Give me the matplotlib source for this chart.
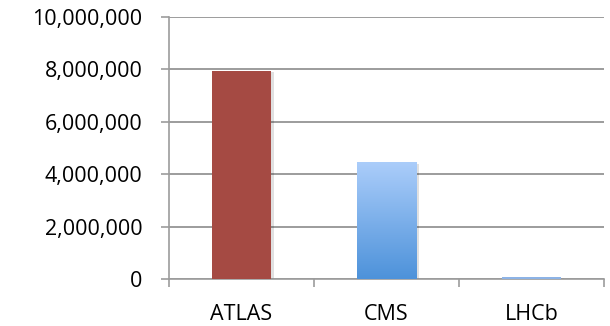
import numpy as np
import matplotlib
matplotlib.use("Agg")
import matplotlib.pyplot as plt
from matplotlib.ticker import FuncFormatter, FixedLocator
from matplotlib.colors import LinearSegmentedColormap

experiments = ["ATLAS", "CMS", "LHCb"]
values = [7950000, 4450000, 80000]
bar_colors = ["#a54a43", None, "#8db3e6"]

plt.rcParams['font.family'] = ['Open Sans', 'DejaVu Sans']

fig = plt.figure(figsize=(6.1, 3.26), dpi=100)
ax = fig.add_axes([169/610, 1 - 279/326, (604 - 169)/610, (279 - 17)/326])

x = np.arange(len(experiments))
w = 0.41
bars = ax.bar(x, values, width=w, zorder=3)

grad = LinearSegmentedColormap.from_list("cms", ["#4d92da", "#abcdfa"])
for b, c in zip(bars, bar_colors):
    # faint shadow
    ax.bar(b.get_x() + b.get_width() / 2 + 0.012, b.get_height(), width=w + 0.01,
           bottom=-60000, color="#000000", alpha=0.12, zorder=2, linewidth=0)
    if c is None:
        b.set_facecolor("none")
        x0, y0 = b.get_x(), b.get_y()
        im = ax.imshow(np.linspace(0, 1, 256).reshape(-1, 1), cmap=grad, aspect="auto",
                       origin="lower", extent=[x0, x0 + b.get_width(), y0, y0 + b.get_height()],
                       zorder=3)
        im.set_clip_path(b)
    else:
        b.set_facecolor(c)
    b.set_linewidth(0)

ax.set_xlim(-0.5, 2.5)
ax.set_ylim(0, 10000000)
ax.set_yticks(np.arange(0, 10000001, 2000000))
ax.yaxis.set_major_formatter(FuncFormatter(lambda v, p: f"{int(v):,}"))
ax.yaxis.grid(True, color="#9c9c9c", linewidth=1.4, zorder=1)
ax.set_axisbelow(True)

ax.xaxis.set_major_locator(FixedLocator([-0.5, 0.5, 1.5, 2.5]))
ax.xaxis.set_minor_locator(FixedLocator(x))
ax.xaxis.set_major_formatter(FuncFormatter(lambda v, p: ""))
ax.set_xticklabels(experiments, minor=True)
ax.tick_params(axis="x", which="major", length=6, color="#9c9c9c", width=1.2)
ax.tick_params(axis="x", which="minor", length=0, pad=18, labelsize=15.5, labelcolor="black")
ax.tick_params(axis="y", length=6, color="#9c9c9c", width=1.2, labelsize=15.5, pad=13,
               labelcolor="black")

for s in ["top", "right"]:
    ax.spines[s].set_visible(False)
for s in ["left", "bottom"]:
    ax.spines[s].set_color("#9c9c9c")
    ax.spines[s].set_linewidth(1.2)

fig.savefig("out.png", dpi=100)
